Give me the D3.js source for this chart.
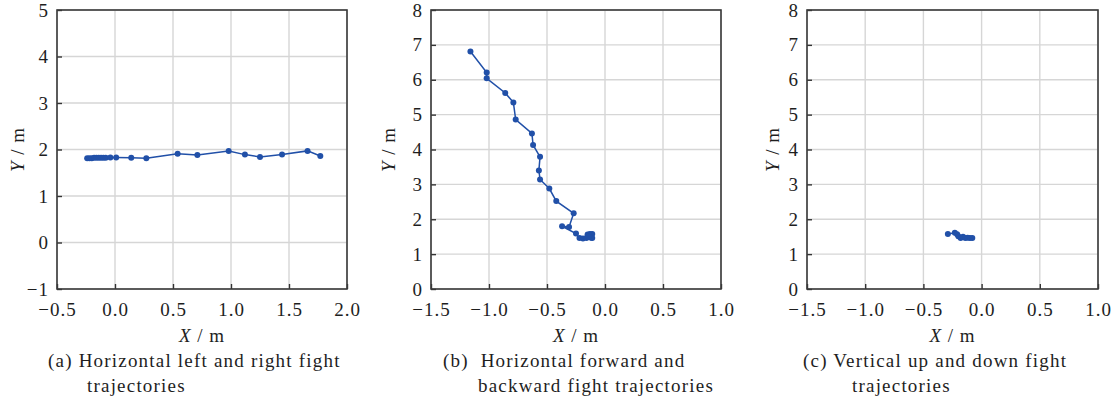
<!DOCTYPE html>
<html>
<head>
<meta charset="utf-8">
<script src="https://cdn.jsdelivr.net/npm/d3@7"></script>
<style>
  body { margin: 0; background: #fff; }
  svg text { font-family: "Liberation Serif", "Times New Roman", serif; fill: #1e1e1e; letter-spacing: 1px; }
  svg text.caption { letter-spacing: 1.2px; }
</style>
</head>
<body>
<div id="chart"></div>
<script>
// (a) horizontal left / right
let xA = [-0.24, -0.22, -0.20, -0.18, -0.16, -0.14, -0.12, -0.10, -0.08, -0.04, 0.01, 0.14, 0.27, 0.54, 0.71, 0.98, 1.12, 1.25, 1.44, 1.66, 1.77];
let yA = [1.81, 1.81, 1.81, 1.82, 1.82, 1.82, 1.82, 1.82, 1.82, 1.83, 1.83, 1.82, 1.81, 1.91, 1.88, 1.97, 1.89, 1.84, 1.89, 1.97, 1.86];

// (b) horizontal forward / backward
let xB = [-1.16, -1.02, -1.02, -0.86, -0.79, -0.77, -0.63, -0.62, -0.56, -0.57, -0.56, -0.48, -0.42, -0.27, -0.31, -0.37, -0.25, -0.22, -0.19, -0.16, -0.15, -0.13, -0.12, -0.11, -0.11, -0.14];
let yB = [6.81, 6.21, 6.04, 5.62, 5.35, 4.86, 4.46, 4.13, 3.79, 3.40, 3.14, 2.88, 2.52, 2.17, 1.78, 1.80, 1.59, 1.46, 1.45, 1.46, 1.56, 1.58, 1.47, 1.58, 1.46, 1.50];

// (c) vertical up / down
let xC = [-0.29, -0.23, -0.21, -0.20, -0.18, -0.16, -0.14, -0.12, -0.10, -0.08];
let yC = [1.58, 1.61, 1.57, 1.51, 1.46, 1.50, 1.46, 1.47, 1.46, 1.46];

let xTicksA = [-0.5, 0.0, 0.5, 1.0, 1.5, 2.0];
let xTicksBC = [-1.5, -1.0, -0.5, 0.0, 0.5, 1.0];
let yTicksA = [-1, 0, 1, 2, 3, 4, 5];
let yTicksBC = [0, 1, 2, 3, 4, 5, 6, 7, 8];

let captionA = ["(a) Horizontal left and right fight", "trajectories"];
let captionB = ["(b)  Horizontal forward and", "backward fight trajectories"];
let captionC = ["(c) Vertical up and down fight", "trajectories"];

let svg = d3.select("#chart").append("svg")
    .attr("width", 1119)
    .attr("height", 399);

let lineColor = "#2150a8";
let plotTop = 10, plotBottom = 289;

function drawPanel(opts) {
    let x = d3.scaleLinear().domain(opts.xDomain).range([opts.left, opts.right]);
    let y = d3.scaleLinear().domain(opts.yDomain).range([plotBottom, plotTop]);
    let g = svg.append("g");

    // grid
    g.selectAll(".gx").data(opts.xTicks).enter().append("line")
        .attr("x1", (d) => x(d)).attr("x2", (d) => x(d))
        .attr("y1", plotTop).attr("y2", plotBottom)
        .attr("stroke", "#d6d6d6").attr("stroke-width", 1.4);
    g.selectAll(".gy").data(opts.yTicks).enter().append("line")
        .attr("x1", opts.left).attr("x2", opts.right)
        .attr("y1", (d) => y(d)).attr("y2", (d) => y(d))
        .attr("stroke", "#d6d6d6").attr("stroke-width", 1.4);

    // axes with inward ticks
    let xAxis = d3.axisBottom(x).tickValues(opts.xTicks).tickFormat(d3.format(".1f"))
        .tickSizeInner(-5).tickSizeOuter(0).tickPadding(14);
    let yAxis = d3.axisLeft(y).tickValues(opts.yTicks).tickFormat(d3.format("d"))
        .tickSizeInner(-5).tickSizeOuter(0).tickPadding(8);

    let ax = g.append("g").attr("transform", "translate(0," + plotBottom + ")").call(xAxis);
    let ay = g.append("g").attr("transform", "translate(" + opts.left + ",0)").call(yAxis);
    [ax, ay].forEach((a) => {
        a.select(".domain").remove();
        a.selectAll(".tick line").attr("stroke", "#333").attr("stroke-width", 1.4);
        a.selectAll(".tick text").attr("font-size", 19).attr("fill", "#1e1e1e")
            .style("font-family", "'Liberation Serif', serif");
    });
    ax.selectAll(".tick text").attr("dy", "0.71em");

    // frame
    g.append("rect")
        .attr("x", opts.left).attr("y", plotTop)
        .attr("width", opts.right - opts.left).attr("height", plotBottom - plotTop)
        .attr("fill", "none").attr("stroke", "#3a3a3a").attr("stroke-width", 1.6);

    // trajectory
    let pts = opts.xs.map((v, i) => [v, opts.ys[i]]);
    let line = d3.line().x((d) => x(d[0])).y((d) => y(d[1]));
    g.append("path")
        .datum(pts)
        .attr("d", line)
        .attr("fill", "none")
        .attr("stroke", lineColor)
        .attr("stroke-width", 1.5);
    g.selectAll(".pt").data(pts).enter().append("circle")
        .attr("cx", (d) => x(d[0]))
        .attr("cy", (d) => y(d[1]))
        .attr("r", 3)
        .attr("fill", lineColor);

    // axis titles
    let cx = (opts.left + opts.right) / 2;
    let xt = g.append("text").attr("x", cx).attr("y", 342)
        .attr("text-anchor", "middle").attr("font-size", 19);
    xt.append("tspan").attr("font-style", "italic").text("X");
    xt.append("tspan").text(" / m");

    let yt = g.append("text")
        .attr("transform", "translate(" + opts.yLabelX + "," + ((plotTop + plotBottom) / 2) + ") rotate(-90)")
        .attr("text-anchor", "middle").attr("font-size", 19).attr("dy", "0.35em");
    yt.append("tspan").attr("font-style", "italic").text("Y");
    yt.append("tspan").text(" / m");

    // caption
    g.append("text").attr("class", "caption").attr("x", opts.capX[0]).attr("y", 367).attr("font-size", 19)
        .style("white-space", "pre").text(opts.caption[0]);
    g.append("text").attr("class", "caption").attr("x", opts.capX[1]).attr("y", 392).attr("font-size", 19)
        .text(opts.caption[1]);
}

drawPanel({
    left: 57, right: 347, xDomain: [-0.5, 2.0], yDomain: [-1, 5],
    xTicks: xTicksA, yTicks: yTicksA, xs: xA, ys: yA,
    yLabelX: 17, caption: captionA, capX: [48, 87]
});
drawPanel({
    left: 431, right: 721, xDomain: [-1.5, 1.0], yDomain: [0, 8],
    xTicks: xTicksBC, yTicks: yTicksBC, xs: xB, ys: yB,
    yLabelX: 388, caption: captionB, capX: [443, 478]
});
drawPanel({
    left: 807, right: 1098, xDomain: [-1.5, 1.0], yDomain: [0, 8],
    xTicks: xTicksBC, yTicks: yTicksBC, xs: xC, ys: yC,
    yLabelX: 772, caption: captionC, capX: [803, 852]
});
</script>
</body>
</html>
